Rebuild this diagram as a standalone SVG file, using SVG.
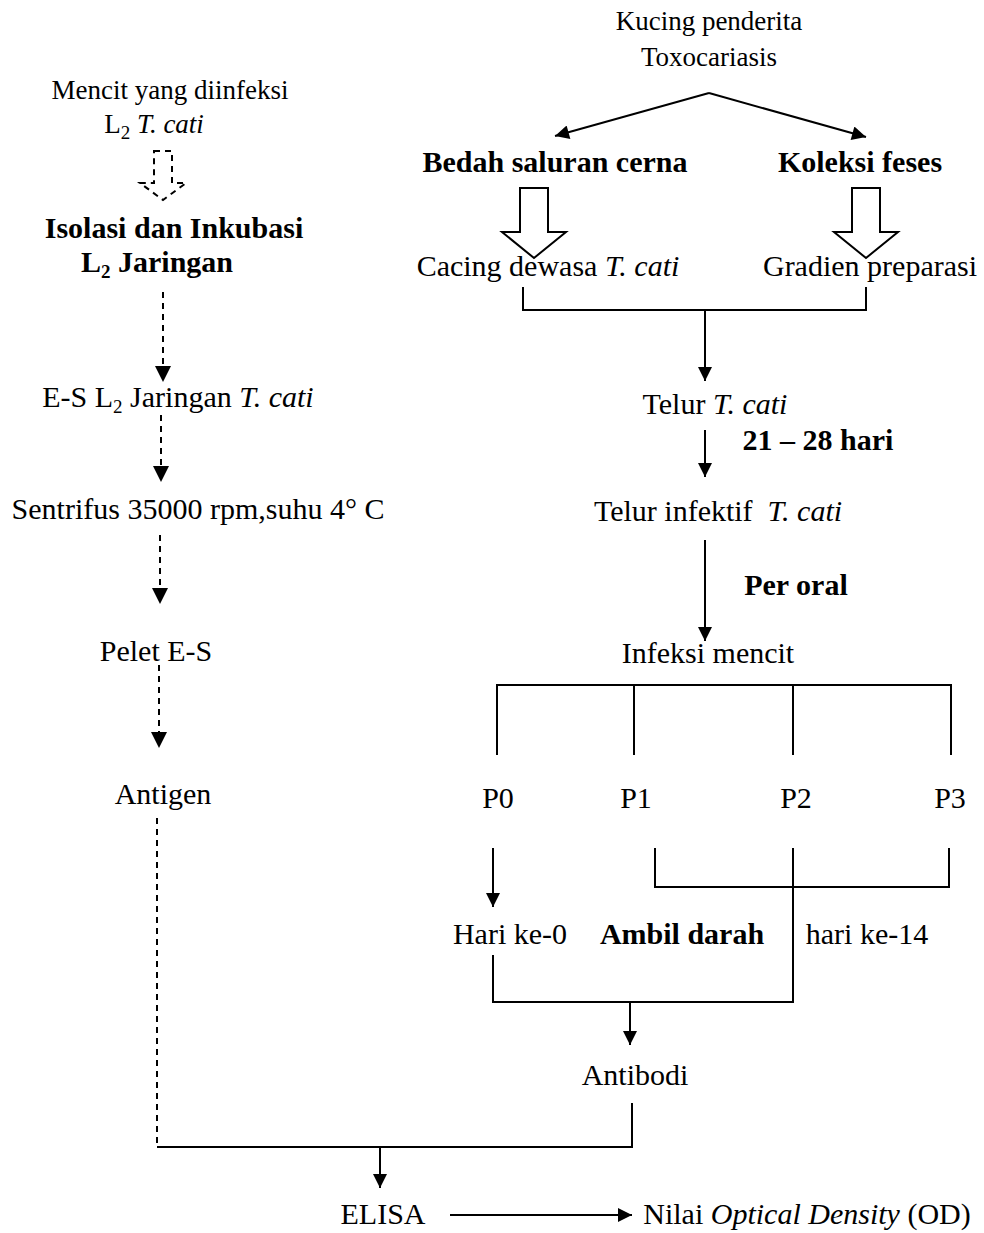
<svg xmlns="http://www.w3.org/2000/svg" width="984" height="1233" viewBox="0 0 984 1233">
<defs>
<marker id="ah" viewBox="0 0 10 10" refX="10" refY="5" markerWidth="18" markerHeight="14" markerUnits="userSpaceOnUse" orient="auto"><path d="M0,0 L10,5 L0,10 z" fill="#000"/></marker>
<marker id="ahb" viewBox="0 0 10 10" refX="10" refY="5" markerWidth="16" markerHeight="14" markerUnits="userSpaceOnUse" orient="auto"><path d="M0,0 L10,5 L0,10 z" fill="#000"/></marker>
</defs>
<style>
text{font-family:"Liberation Serif","Times New Roman",serif;font-size:30px;fill:#000;text-anchor:middle}
.t{font-size:27px}
.b{font-weight:bold}
.i{font-style:italic}
.s{font-size:19px}
.ln{stroke:#000;stroke-width:2;fill:none}
.ds{stroke:#000;stroke-width:2;fill:none;stroke-dasharray:6,5}
</style>
<rect width="984" height="1233" fill="#fff"/>
<g id="connectors">
<line class="ln" x1="709" y1="93" x2="555" y2="136" marker-end="url(#ahb)"/>
<line class="ln" x1="709" y1="93" x2="866" y2="137" marker-end="url(#ahb)"/>
<path class="ln" d="M520,188 H548 V232 H566 L534,258 L502,232 H520 Z"/>
<path class="ln" d="M852,188 H880 V232 H898 L866,258 L834,232 H852 Z"/>
<path class="ds" d="M154,151 H172 V183 H186 L163,200 L140,183 H154 Z"/>
<path class="ln" d="M523,287 V310 H866 V287"/>
<line class="ln" x1="705" y1="310" x2="705" y2="381" marker-end="url(#ah)"/>
<line class="ln" x1="705" y1="430" x2="705" y2="477" marker-end="url(#ah)"/>
<line class="ln" x1="705" y1="540" x2="705" y2="641" marker-end="url(#ah)"/>
<path class="ln" d="M497,755 V685 H951 V755 M634,685 V755 M793,685 V755"/>
<line class="ln" x1="493" y1="848" x2="493" y2="907" marker-end="url(#ah)"/>
<path class="ln" d="M655,848 V887 H949 V848 M793,848 V1002 H493 V955"/>
<line class="ln" x1="630" y1="1002" x2="630" y2="1045" marker-end="url(#ah)"/>
<path class="ln" d="M632,1103 V1147 H157"/>
<line class="ds" x1="157" y1="818" x2="157" y2="1147"/>
<line class="ln" x1="380" y1="1147" x2="380" y2="1188" marker-end="url(#ah)"/>
<line class="ln" x1="450" y1="1215" x2="632" y2="1215" marker-end="url(#ah)"/>
<line class="ds" x1="163" y1="292" x2="163" y2="368"/>
<path d="M155,366 L171,366 L163,382 z"/>
<line class="ds" x1="161" y1="415" x2="161" y2="468"/>
<path d="M153,466 L169,466 L161,482 z"/>
<line class="ds" x1="160" y1="535" x2="160" y2="590"/>
<path d="M152,588 L168,588 L160,604 z"/>
<line class="ds" x1="159" y1="665" x2="159" y2="733"/>
<path d="M151,732 L167,732 L159,748 z"/>
</g>
<g id="n-kucing"><text class="t" x="709" y="30">Kucing penderita</text><text class="t" x="709" y="66">Toxocariasis</text></g>
<g id="n-mencit"><text class="t" x="170" y="99">Mencit yang diinfeksi</text><text class="t" x="154" y="133">L<tspan class="s" dy="6">2</tspan><tspan dy="-6"> </tspan><tspan class="i">T. cati</tspan></text></g>
<g id="n-isolasi"><text class="b" x="174" y="238">Isolasi dan Inkubasi</text><text class="b" x="157" y="272">L<tspan class="s" dy="6">2</tspan><tspan dy="-6"> Jaringan</tspan></text></g>
<g id="n-es"><text x="178" y="407">E-S L<tspan class="s" dy="6">2</tspan><tspan dy="-6"> Jaringan </tspan><tspan class="i">T. cati</tspan></text></g>
<g id="n-sentrifus"><text x="198" y="519">Sentrifus 35000 rpm,suhu 4° C</text></g>
<g id="n-pelet"><text x="156" y="661">Pelet E-S</text></g>
<g id="n-antigen"><text x="163" y="804">Antigen</text></g>
<g id="n-bedah"><text class="b" x="555" y="172">Bedah saluran cerna</text></g>
<g id="n-koleksi"><text class="b" x="860" y="172">Koleksi feses</text></g>
<g id="n-cacing"><text x="548" y="276">Cacing dewasa <tspan class="i">T. cati</tspan></text></g>
<g id="n-gradien"><text x="870" y="276">Gradien preparasi</text></g>
<g id="n-telur"><text x="715" y="414">Telur <tspan class="i">T. cati</tspan></text></g>
<g id="n-hari"><text class="b" x="818" y="450">21 – 28 hari</text></g>
<g id="n-telurinf"><text x="718" y="521">Telur infektif&#160; <tspan class="i">T. cati</tspan></text></g>
<g id="n-peroral"><text class="b" x="796" y="595">Per oral</text></g>
<g id="n-infeksi"><text x="708" y="663">Infeksi mencit</text></g>
<g id="n-p0"><text x="498" y="808">P0</text></g>
<g id="n-p1"><text x="636" y="808">P1</text></g>
<g id="n-p2"><text x="796" y="808">P2</text></g>
<g id="n-p3"><text x="950" y="808">P3</text></g>
<g id="n-hari0"><text x="510" y="944">Hari ke-0</text></g>
<g id="n-ambil"><text class="b" x="682" y="944">Ambil darah</text></g>
<g id="n-hari14"><text x="867" y="944">hari ke-14</text></g>
<g id="n-antibodi"><text x="635" y="1085">Antibodi</text></g>
<g id="n-elisa"><text x="383" y="1224">ELISA</text></g>
<g id="n-nilai"><text x="807" y="1224">Nilai <tspan class="i">Optical Density</tspan> (OD)</text></g>
</svg>
